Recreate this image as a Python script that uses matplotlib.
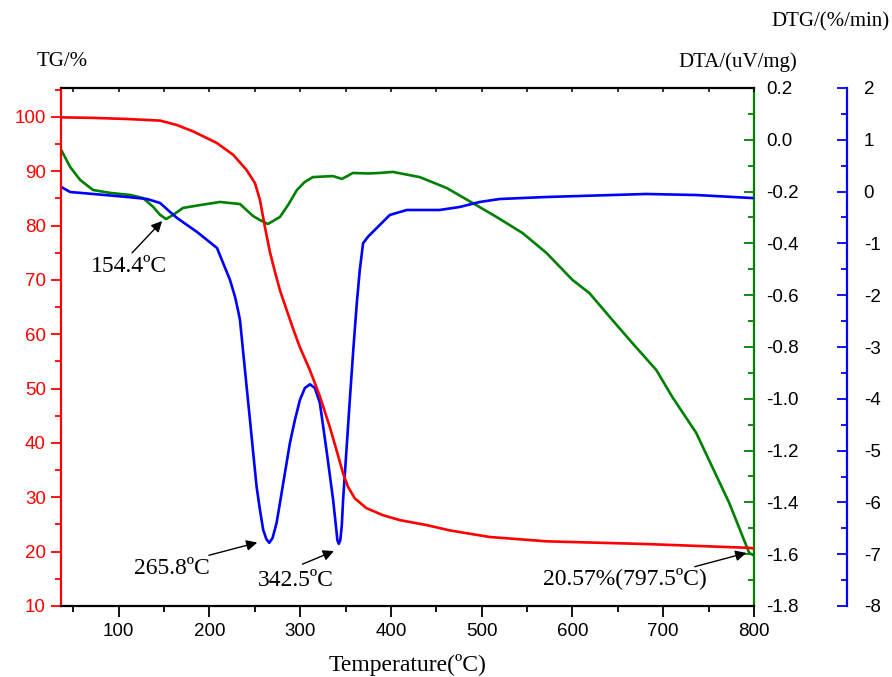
import numpy as np
import matplotlib
matplotlib.use("Agg")
import matplotlib.pyplot as plt
from matplotlib.ticker import MultipleLocator, FormatStrFormatter

plt.rcParams['axes.unicode_minus'] = False
plt.rcParams['font.family'] = ['Liberation Sans', 'DejaVu Sans']
serif = ['Liberation Serif', 'DejaVu Serif']

# TG curve (%)
tg_T = [36.7, 72.3, 109, 145.7, 164, 182.3, 208, 226.3, 241, 250.2, 255.7, 261.2,
        266.7, 272.2, 277.7, 283.2, 292, 299.7, 310.7, 321.7, 332.7, 340, 347.3,
        352.8, 360.2, 373, 391.3, 409.7, 439, 465, 508.6, 571, 681, 794.7, 800]
tg_v = [99.9, 99.8, 99.6, 99.3, 98.5, 97.3, 95.2, 93.0, 90.2, 87.8, 84.7, 79.7,
        75.1, 71.5, 68.1, 65.4, 61.1, 57.6, 53.4, 48.6, 42.9, 38.7, 34.4,
        31.9, 29.8, 28.0, 26.7, 25.8, 24.9, 23.9, 22.7, 21.9, 21.4, 20.7, 20.57]

# DTA curve (uV/mg)
dta_T = [36.7, 46.6, 57.6, 71.9, 90.6, 112.7, 127, 138, 145.7, 152.3, 160, 171,
         189.7, 211.7, 233.7, 248, 255.7, 264.5, 277.7, 287, 296.4, 305, 314, 336,
         345.9, 352, 358, 375, 387.7, 402, 431.7, 461.4, 490, 516.4, 545, 571.4,
         600, 618.7, 644, 666, 692.4, 710, 736.4, 754, 772.7, 794.7, 799]
dta_v = [-0.039, -0.105, -0.155, -0.194, -0.205, -0.213, -0.225, -0.259, -0.290,
         -0.306, -0.290, -0.263, -0.252, -0.240, -0.248, -0.294, -0.310, -0.325,
         -0.298, -0.250, -0.194, -0.163, -0.144, -0.140, -0.151, -0.140, -0.128,
         -0.130, -0.128, -0.124, -0.144, -0.186, -0.244, -0.298, -0.360, -0.437,
         -0.541, -0.592, -0.696, -0.785, -0.889, -0.993, -1.132, -1.263, -1.402,
         -1.595, -1.603]

# DTG curve (%/min)
dtg_T = [36.7, 46.6, 72, 109.4, 131.4, 145.7, 156.7, 164.4, 175.4, 186.4, 197.4,
         208.4, 222.7, 228.2, 231.5, 233.7, 237.3, 241, 244.7, 248.3, 252, 255.7,
         259.3, 262.8, 265.9, 269.6, 274, 277.7, 283.2, 288.7, 294.2, 299.7, 305.2,
         310.7, 316.2, 321.7, 329, 336.3, 339.3, 341, 342.5, 344.2, 345.9, 347.3,
         351, 354.7, 358.5, 362.4, 365.7, 369.3, 374.8, 384, 398.7, 417.4, 453.7,
         475.7, 497.7, 519.7, 571.4, 681.4, 736.4, 798]
dtg_v = [0.089, -0.008, -0.046, -0.104, -0.143, -0.220, -0.394, -0.510, -0.645,
         -0.780, -0.934, -1.089, -1.707, -2.029, -2.29, -2.479, -3.116, -3.766,
         -4.409, -5.052, -5.697, -6.147, -6.533, -6.71, -6.78, -6.687, -6.398,
         -6.012, -5.432, -4.853, -4.409, -4.023, -3.792, -3.72, -3.792, -4.08,
         -4.99, -5.95, -6.44, -6.73, -6.80, -6.73, -6.44, -5.95, -4.99, -4.02,
         -3.06, -2.151, -1.51, -0.998, -0.87, -0.709, -0.452, -0.355, -0.355,
         -0.297, -0.201, -0.143, -0.104, -0.046, -0.066, -0.124]

fig = plt.figure(figsize=(8.92, 6.77), dpi=100)
ax = fig.add_axes([61/892, 1-606/677, 693/892, 518/677])
ax2 = ax.twinx()
ax3 = ax.twinx()
ax.set_zorder(3)
ax.patch.set_visible(False)

ax2.plot(dta_T, dta_v, color='green', lw=1.9)
ax3.plot(dtg_T, dtg_v, color='blue', lw=1.9)
ax.plot(tg_T, tg_v, color='red', lw=1.9)

ax.set_xlim(36.5, 800)
ax.set_ylim(10, 105.3)
ax2.set_ylim(-1.8, 0.2)
ax3.set_ylim(-8, 2)

ax.xaxis.set_major_locator(MultipleLocator(100))
ax.xaxis.set_minor_locator(MultipleLocator(50))
ax.yaxis.set_major_locator(MultipleLocator(10))
ax.yaxis.set_minor_locator(MultipleLocator(5))
ax2.yaxis.set_major_locator(MultipleLocator(0.2))
ax2.yaxis.set_minor_locator(MultipleLocator(0.1))
ax2.yaxis.set_major_formatter(FormatStrFormatter('%.1f'))
ax3.yaxis.set_major_locator(MultipleLocator(1))
ax3.yaxis.set_minor_locator(MultipleLocator(0.5))

for a in (ax, ax2, ax3):
    for s in a.spines.values():
        s.set_linewidth(1.6)

ax.spines['left'].set_color('red')
ax.spines['right'].set_visible(False)
ax2.spines['left'].set_visible(False)
ax2.spines['right'].set_color('green')
ax2.spines['top'].set_visible(False)
ax2.spines['bottom'].set_visible(False)
ax3.spines['left'].set_visible(False)
ax3.spines['top'].set_visible(False)
ax3.spines['bottom'].set_visible(False)
ax3.spines['right'].set_color('blue')
ax3.spines['right'].set_position(('axes', 1 + 93/693))

ax.tick_params(axis='x', which='both', direction='out', top=False, labelsize=13.5,
               width=1.3, pad=4)
ax.tick_params(axis='x', which='major', length=8)
ax.tick_params(axis='x', which='minor', length=4.5)
sec = ax.secondary_xaxis('top')
sec.xaxis.set_major_locator(MultipleLocator(100))
sec.xaxis.set_minor_locator(MultipleLocator(50))
sec.tick_params(which='both', direction='in', labeltop=False, width=1.1, length=3)
sec.spines['top'].set_visible(False)

ax.tick_params(axis='y', which='both', direction='out', colors='red', labelsize=13.5,
               width=1.3, pad=4)
ax.tick_params(axis='y', which='major', length=7)
ax.tick_params(axis='y', which='minor', length=4)

ax2.tick_params(axis='y', which='both', direction='in', colors='green', labelcolor='black',
                labelsize=13.5, width=1.3, pad=9)
ax2.tick_params(axis='y', which='major', length=7)
ax2.tick_params(axis='y', which='minor', length=4)

ax3.tick_params(axis='y', which='both', direction='in', colors='blue', labelcolor='black',
                labelsize=13.5, width=1.3, pad=12)
ax3.tick_params(axis='y', which='major', length=7)
ax3.tick_params(axis='y', which='minor', length=4)

ax.set_xlabel('Temperature(ºC)', family=serif, fontsize=17, labelpad=10)
fig.text(62/892, 1-62/677, 'TG/%', family=serif, fontsize=15, ha='center', va='center')
fig.text(738/892, 1-62/677, 'DTA/(uV/mg)', family=serif, fontsize=15, ha='center', va='center')
fig.text(830/892, 1-22/677, 'DTG/(%/min)', family=serif, fontsize=15, ha='center', va='center')

arrow = dict(arrowstyle='-|>', color='black', lw=1.0, mutation_scale=16)
ax.annotate('', xy=(150, 81.2), xytext=(112.7, 74.6), arrowprops=arrow)
ax.annotate('', xy=(255.7, 21.8), xytext=(196.5, 19.2), arrowprops=arrow)
ax.annotate('', xy=(340, 20.3), xytext=(299.7, 17.5), arrowprops=arrow)
ax.annotate('', xy=(794.5, 19.9), xytext=(731.8, 17.1), arrowprops=arrow)
ax.text(111, 72.4, '154.4ºC', family=serif, fontsize=17, ha='center', va='center')
ax.text(158.9, 16.9, '265.8ºC', family=serif, fontsize=17, ha='center', va='center')
ax.text(295.3, 14.7, '342.5ºC', family=serif, fontsize=17, ha='center', va='center')
ax.text(657.2, 15.1, '20.57%(797.5ºC)', family=serif, fontsize=17, ha='center', va='center')

fig.savefig('out.png', dpi=100)
